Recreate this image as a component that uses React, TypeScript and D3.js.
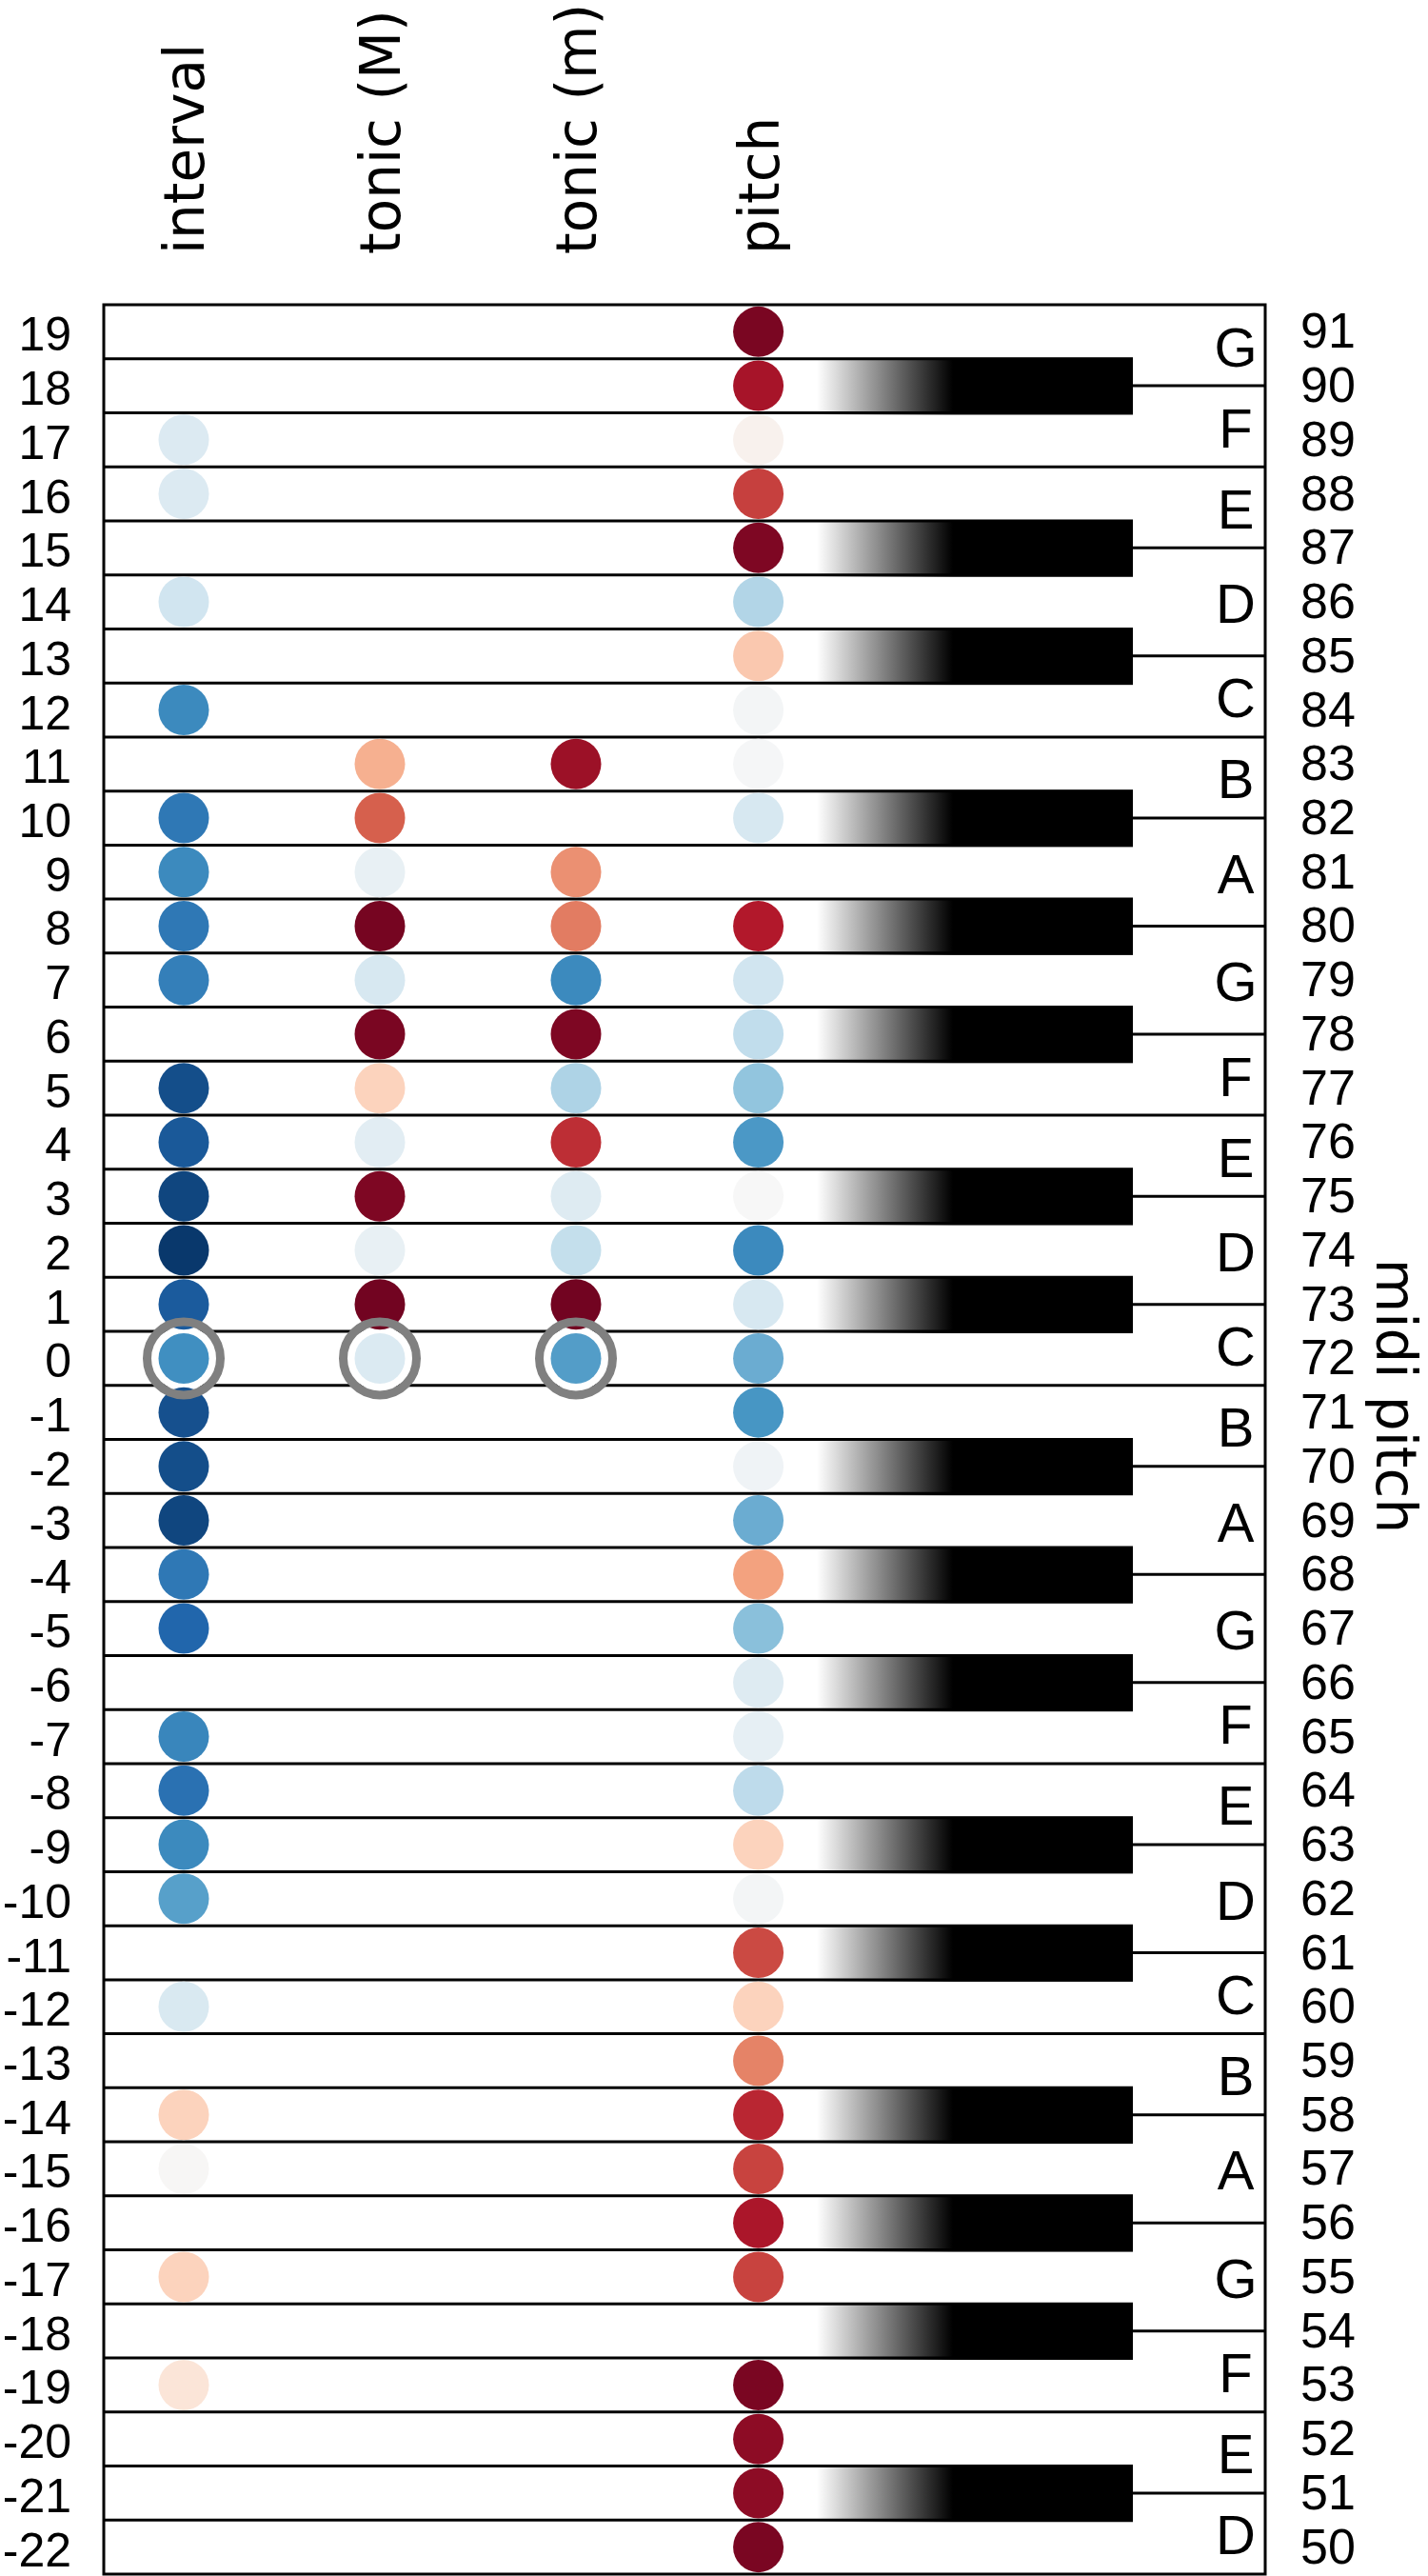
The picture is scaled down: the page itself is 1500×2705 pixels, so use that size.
import React from "react";
import * as d3 from "d3";

// row labels, top to bottom
const intervals = [19, 18, 17, 16, 15, 14, 13, 12, 11, 10, 9, 8, 7, 6, 5, 4, 3, 2, 1, 0, -1, -2, -3, -4, -5, -6, -7, -8, -9, -10, -11, -12, -13, -14, -15, -16, -17, -18, -19, -20, -21, -22];
const midiPitches = [91, 90, 89, 88, 87, 86, 85, 84, 83, 82, 81, 80, 79, 78, 77, 76, 75, 74, 73, 72, 71, 70, 69, 68, 67, 66, 65, 64, 63, 62, 61, 60, 59, 58, 57, 56, 55, 54, 53, 52, 51, 50];
const noteNames = ["C", "C#", "D", "D#", "E", "F", "F#", "G", "G#", "A", "A#", "B"];

const columns = ["interval", "tonic (M)", "tonic (m)", "pitch"];
const columnPos = [0, 1, 2, 2.93];

// values per row (-1 blue ... 1 red), null = no marker
const intervalVals = [null, null, -0.14, -0.14, null, -0.2, null, -0.64, null, -0.72, -0.64, -0.72, -0.69, null, -0.89, -0.85, -0.92, -0.97, -0.84, -0.62, -0.88, -0.89, -0.92, -0.72, -0.8, null, -0.66, -0.75, -0.64, -0.55, null, -0.16, null, 0.23, 0.01, null, 0.23, null, 0.13, null, null, null];
const tonicMajorVals = [null, null, null, null, null, null, null, null, 0.36, 0.6, -0.08, 0.96, -0.17, 0.95, 0.23, -0.11, 0.94, -0.08, 0.97, -0.15, null, null, null, null, null, null, null, null, null, null, null, null, null, null, null, null, null, null, null, null, null, null];
const tonicMinorVals = [null, null, null, null, null, null, null, null, 0.86, null, 0.46, 0.52, -0.64, 0.94, -0.31, 0.74, -0.13, -0.24, 0.97, -0.56, null, null, null, null, null, null, null, null, null, null, null, null, null, null, null, null, null, null, null, null, null, null];
const pitchVals = [0.95, 0.83, 0.04, 0.69, 0.94, -0.3, 0.27, -0.02, -0.01, -0.17, null, 0.8, -0.2, -0.25, -0.4, -0.58, 0, -0.64, -0.17, -0.5, -0.59, -0.04, -0.5, 0.41, -0.42, -0.13, -0.09, -0.26, 0.23, -0.02, 0.66, 0.23, 0.5, 0.76, 0.68, 0.82, 0.68, null, 0.95, 0.9, 0.9, 0.95];
const seriesVals = [intervalVals, tonicMajorVals, tonicMinorVals, pitchVals];

// reference row (interval 0) circled in the first three columns
const highlightInterval = 0;
const highlightCols = [0, 1, 2];

const W = 1500;
const H = 2705;
const frame = {left: 109, right: 1329, top: 320, bottom: 2703};
const keyFadeStart = 858;
const keyFadeEnd = 1001;
const keyRight = 1190;
const dotR = 26.5;
const numFont = "'Liberation Sans', Arial, sans-serif";
const headFont = "'DejaVu Sans', sans-serif";

const isBlack = (p: number) => [1, 3, 6, 8, 10].includes(p % 12);

export default function App() {
    const yScale = d3.scaleBand<number>().domain(midiPitches).range([frame.top, frame.bottom]);
    const bw = yScale.bandwidth();
    const cy = (p: number) => (yScale(p) as number) + bw / 2;
    const yInterval = d3.scaleBand<number>().domain(intervals).range([frame.top, frame.bottom]);
    const cyI = (v: number) => (yInterval(v) as number) + bw / 2;

    const xScale = d3.scaleLinear().domain([0, 1]).range([193, 399]);

    const color = d3.scaleLinear<string>()
        .domain(d3.range(11).map(i => 1 - i * 0.2))
        .range(d3.schemeRdBu[11] as string[]);

    // separators between neighbouring rows
    const separators = midiPitches.slice(1).map((p, i) => {
        const upper = midiPitches[i];
        const whiteWhite = !isBlack(p) && !isBlack(upper);
        return {y: yScale(upper)! + bw, x2: whiteWhite ? frame.right : keyRight};
    });

    const blackKeys = midiPitches.filter(isBlack);
    const whiteKeys = midiPitches.filter(p => !isBlack(p)).map(p => {
        const top = Math.max(frame.top, isBlack(p + 1) ? yScale(p)! - bw / 2 : yScale(p)!);
        const bottom = Math.min(frame.bottom, isBlack(p - 1) ? yScale(p)! + bw * 1.5 : yScale(p)! + bw);
        return {p, y: (top + bottom) / 2};
    });

    const hy = cyI(highlightInterval);

    return (
        <div>
            <style>{"body{margin:0}"}</style>
            <svg width={W} height={H} style={{display: "block", background: "#fff"}}>
                <defs>
                    <linearGradient id="keyFade" gradientUnits="userSpaceOnUse" x1={keyFadeStart} x2={keyFadeEnd} y1={0} y2={0}>
                        <stop offset="0" stopColor="#fff"/>
                        <stop offset="1" stopColor="#000"/>
                    </linearGradient>
                </defs>

                {/* black keys */}
                {blackKeys.map(p => (
                    <rect key={"bk" + p} x={keyFadeStart} y={yScale(p)! - 1} width={keyRight - keyFadeStart}
                          height={bw + 3} fill="url(#keyFade)"/>
                ))}

                {/* row lines */}
                {separators.map((s, i) => (
                    <line key={"sep" + i} x1={frame.left} x2={s.x2} y1={s.y} y2={s.y} stroke="#000" strokeWidth={3}/>
                ))}
                {blackKeys.map(p => (
                    <line key={"bl" + p} x1={keyRight} x2={frame.right} y1={cy(p)} y2={cy(p)} stroke="#000" strokeWidth={3}/>
                ))}
                <rect x={frame.left} y={frame.top} width={frame.right - frame.left} height={frame.bottom - frame.top}
                      fill="none" stroke="#000" strokeWidth={3}/>

                {/* note names */}
                {whiteKeys.map(k => (
                    <text key={"wk" + k.p} x={1298} y={k.y + 22} textAnchor="middle" fontFamily={numFont}
                          fontSize={58} fill="#000">{noteNames[k.p % 12]}</text>
                ))}

                {/* highlight ring backgrounds */}
                {highlightCols.map(c => (
                    <circle key={"hb" + c} cx={xScale(columnPos[c])} cy={hy} r={34} fill="#fff"/>
                ))}

                {/* markers */}
                {seriesVals.map((vals, c) => vals.map((v, i) => v === null ? null : (
                    <circle key={"d" + c + "-" + i} cx={xScale(columnPos[c])} cy={cyI(intervals[i])} r={dotR}
                            fill={color(v)}/>
                )))}

                {highlightCols.map(c => (
                    <circle key={"hr" + c} cx={xScale(columnPos[c])} cy={hy} r={38.5} fill="none"
                            stroke="#808080" strokeWidth={9}/>
                ))}

                {/* left ticks: interval */}
                {intervals.map(v => (
                    <text key={"li" + v} x={75} y={cyI(v) + 20} textAnchor="end" fontFamily={numFont}
                          fontSize={50} fill="#000">{v}</text>
                ))}

                {/* right ticks: midi pitch */}
                {midiPitches.map(p => (
                    <text key={"rp" + p} x={1366} y={cy(p) + 17} textAnchor="start" fontFamily={numFont}
                          fontSize={52} fill="#000">{p}</text>
                ))}

                {/* column headers */}
                {columns.map((name, c) => {
                    const x = xScale(columnPos[c]) + 21;
                    return (
                        <text key={"h" + c} transform={`translate(${x},267) rotate(-90)`} textAnchor="start"
                              fontFamily={headFont} fontSize={58} fill="#000">{name}</text>
                    );
                })}

                <text transform="translate(1446,1466) rotate(90)" textAnchor="middle" fontFamily={headFont}
                      fontSize={58} fill="#000">midi pitch</text>
            </svg>
        </div>
    );
}
